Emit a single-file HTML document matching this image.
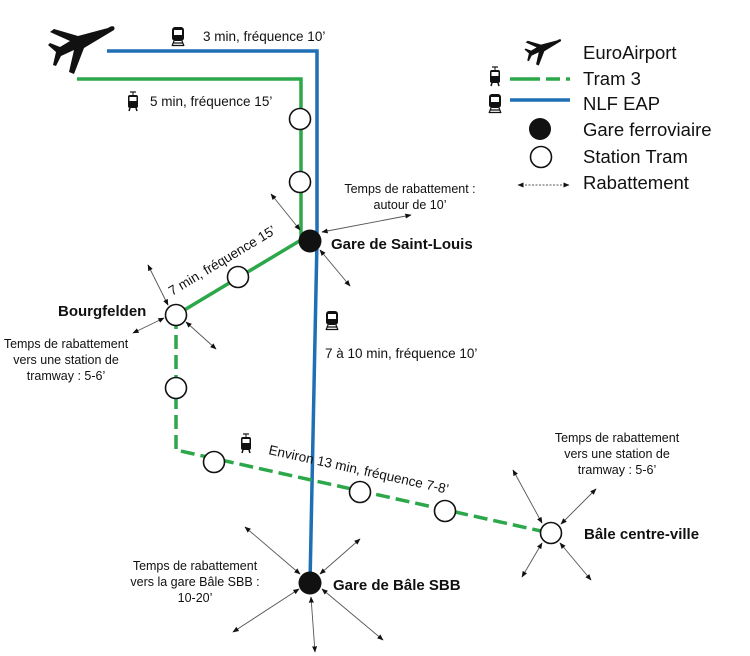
<!DOCTYPE html>
<html><head><meta charset="utf-8"><style>
html,body{margin:0;padding:0;background:#fff}
svg{display:block}
text{font-family:"Liberation Sans",sans-serif;fill:#111}
.s{font-size:12.5px}
.m{font-size:13.5px}
.b{font-size:15px;font-weight:bold}
.l{font-size:18.5px}
</style></head><body>
<svg width="750" height="656" viewBox="0 0 750 656" xmlns="http://www.w3.org/2000/svg">
<defs>
<marker id="a" viewBox="0 0 10 10" refX="9" refY="5" markerWidth="7" markerHeight="7" orient="auto-start-reverse"><path d="M0,1 L10,5 L0,9 z" fill="#111"/></marker>
<g id="tram"><rect x="-5" y="-7" width="10" height="13" rx="2" fill="#111"/><rect x="-3.5" y="-5" width="7" height="4" fill="#fff"/><line x1="-3" y1="-10" x2="3" y2="-10" stroke="#111" stroke-width="1.2"/><line x1="0" y1="-10" x2="0" y2="-7" stroke="#111"/><line x1="-3" y1="6" x2="-4" y2="9" stroke="#111" stroke-width="1.5"/><line x1="3" y1="6" x2="4" y2="9" stroke="#111" stroke-width="1.5"/></g>
<g id="train"><rect x="-6" y="-9" width="12" height="14" rx="3" fill="#111"/><rect x="-4" y="-6" width="8" height="5" fill="#fff"/><path d="M-6,10 L-4,5 M6,10 L4,5 M-5,7 H5 M-6,9.5 H6" stroke="#111" stroke-width="1.2" fill="none"/></g>
<g id="plane"><path d="M30,-16 C34,-19 38,-18 36,-14 L6,4 L-4,30 L-9,28 L-4,6 L-17,12 L-22,22 L-25,21 L-22,8 L-30,1 L-28,-1 L-18,3 L-8,-3 L-28,-12 L-24,-15 L0,-8 Z" fill="#111"/></g>
</defs>

<polyline points="107,51 317,51 317,240 310,583" fill="none" stroke="#1f6fb5" stroke-width="3.5"/>
<polyline points="77,79 301,79 301,240 176,315" fill="none" stroke="#2ca84a" stroke-width="3.5"/>
<polyline points="176,315 176,450 550,533" fill="none" stroke="#2ca84a" stroke-width="3.5" stroke-dasharray="14,6"/>

<use href="#plane" x="78" y="44"/>

<g stroke="#555" stroke-width="0.9" fill="none" marker-start="url(#a)" marker-end="url(#a)">
<line x1="271" y1="194" x2="300" y2="230"/>
<line x1="320" y1="250" x2="350" y2="286"/>
<line x1="322" y1="232" x2="411" y2="215"/>
<line x1="148" y1="265" x2="168" y2="305"/>
<line x1="164" y1="318" x2="133" y2="333"/>
<line x1="186" y1="322" x2="216" y2="349"/>
<line x1="513" y1="470" x2="542" y2="523"/>
<line x1="561" y1="524" x2="596" y2="489"/>
<line x1="542" y1="543" x2="522" y2="577"/>
<line x1="560" y1="543" x2="591" y2="580"/>
<line x1="245" y1="527" x2="300" y2="574"/>
<line x1="320" y1="574" x2="360" y2="539"/>
<line x1="299" y1="589" x2="233" y2="632"/>
<line x1="311" y1="597" x2="315" y2="652"/>
<line x1="322" y1="589" x2="383" y2="640"/>
</g>

<g fill="#fff" stroke="#111" stroke-width="1.6">
<circle cx="300" cy="119" r="10.5"/>
<circle cx="300" cy="182" r="10.5"/>
<circle cx="238" cy="277" r="10.5"/>
<circle cx="176" cy="315" r="10.5"/>
<circle cx="176" cy="388" r="10.5"/>
<circle cx="214" cy="462" r="10.5"/>
<circle cx="360" cy="492" r="10.5"/>
<circle cx="445" cy="511" r="10.5"/>
<circle cx="551" cy="533" r="10.5"/>
</g>
<circle cx="310" cy="241" r="11.5" fill="#111"/>
<circle cx="310" cy="583" r="11.5" fill="#111"/>

<use href="#train" x="178" y="36"/>
<use href="#tram" x="133" y="102"/>
<use href="#train" x="332" y="320"/>
<use href="#tram" x="246" y="444"/>

<text x="203" y="41" class="m">3 min, fréquence 10’</text>
<text x="150" y="106" class="m">5 min, fréquence 15’</text>
<text class="m" transform="translate(172,296) rotate(-31)">7 min, fréquence 15’</text>
<text class="m" transform="translate(268,454) rotate(12.5)">Environ 13 min, fréquence 7-8’</text>
<text x="325" y="358" class="m">7 à 10 min, fréquence 10’</text>

<text x="331" y="249" class="b">Gare de Saint-Louis</text>
<text x="58" y="316" class="b">Bourgfelden</text>
<text x="584" y="539" class="b">Bâle centre-ville</text>
<text x="333" y="590" class="b">Gare de Bâle SBB</text>

<g class="s" text-anchor="middle">
<text x="410" y="193">Temps de rabattement :</text>
<text x="410" y="209">autour de 10’</text>
<text x="66" y="348">Temps de rabattement</text>
<text x="66" y="364">vers une station de</text>
<text x="66" y="380">tramway : 5-6’</text>
<text x="617" y="442">Temps de rabattement</text>
<text x="617" y="458">vers une station de</text>
<text x="617" y="474">tramway : 5-6’</text>
<text x="195" y="570">Temps de rabattement</text>
<text x="195" y="586">vers la gare Bâle SBB :</text>
<text x="195" y="602">10-20’</text>
</g>

<g transform="translate(541,49) scale(0.55)"><use href="#plane"/></g>
<use href="#tram" x="495" y="77"/>
<line x1="510" y1="79" x2="570" y2="79" stroke="#2ca84a" stroke-width="3.5" stroke-dasharray="30,6,14,6,14"/>
<use href="#train" x="495" y="103"/>
<line x1="510" y1="100" x2="570" y2="100" stroke="#1f6fb5" stroke-width="3.5"/>
<circle cx="540" cy="129" r="11" fill="#111"/>
<circle cx="541" cy="157" r="10.5" fill="#fff" stroke="#111" stroke-width="1.6"/>
<line x1="518" y1="185" x2="569" y2="185" stroke="#555" stroke-width="0.9" stroke-dasharray="2,1.5" marker-start="url(#a)" marker-end="url(#a)"/>
<g class="l">
<text x="583" y="59">EuroAirport</text>
<text x="583" y="85">Tram 3</text>
<text x="583" y="110">NLF EAP</text>
<text x="583" y="136">Gare ferroviaire</text>
<text x="583" y="163">Station Tram</text>
<text x="583" y="189">Rabattement</text>
</g>
</svg>
</body></html>
